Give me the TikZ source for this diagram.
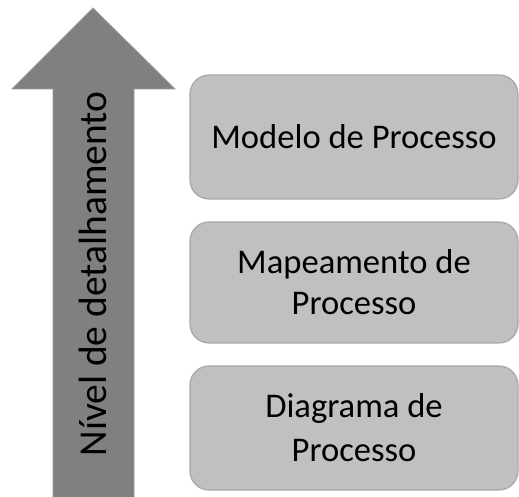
\documentclass[tikz,border=0pt]{standalone}
\usepackage{fontspec}
\setmainfont{Carlito}
\definecolor{arrowfill}{HTML}{808080}
\definecolor{arrowline}{HTML}{9A9A9A}
\definecolor{boxfill}{HTML}{C0C0C0}
\definecolor{boxline}{HTML}{A8A8A8}
\begin{document}
\begin{tikzpicture}[x=1pt,y=1pt,
  levelbox/.style={draw=boxline, line width=1.2pt, fill=boxfill, rounded corners=19pt,
    minimum width=328pt, inner sep=0pt, align=center, text=black,
    font=\fontsize{34.6}{41}\selectfont},
  arrowtext/.style={font=\fontsize{39.5}{46}\selectfont, text=black, rotate=90, inner sep=0pt}]
\useasboundingbox (0,0) rectangle (519,497);
% arrow
\fill[arrowfill, draw=arrowline, line width=0.8pt]
  (53,-2) -- (53,497-89) -- (12,497-89) -- (93,497-8) -- (175,497-89) -- (134,497-89) -- (134,-2) -- cycle;
\node[arrowtext, anchor=base] (lbl) at (106.5,497-274) {Nível de detalhamento};
% boxes
\node[levelbox, minimum height=124pt] (b1) at (354,497-137) {Modelo de Processo};
\node[levelbox, minimum height=121pt] (b2) at (354,497-282.5) {Mapeamento de\\Processo};
\node[levelbox, minimum height=124pt, font=\fontsize{34.6}{44}\selectfont] (b3) at (354,497-428) {Diagrama de\\Processo};
\end{tikzpicture}
\end{document}
